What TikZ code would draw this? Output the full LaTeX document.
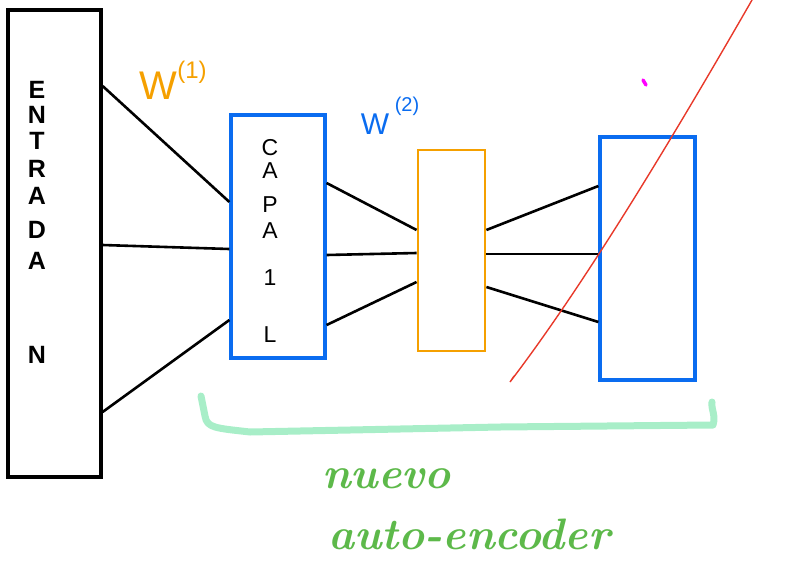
\documentclass[tikz,border=0pt]{standalone}
\usepackage{fontspec}
\setsansfont{Liberation Sans}
\definecolor{pblue}{HTML}{0A6CF0}
\definecolor{porange}{HTML}{F5A000}
\definecolor{pgreen}{HTML}{5DB94A}
\definecolor{pbrace}{HTML}{A8EEC8}
\definecolor{pred}{HTML}{E8392A}
\definecolor{pmag}{HTML}{FF00FF}
\tikzset{
  layerbox/.style={draw, line width=3.2pt, inner sep=0pt, fill=white},
  conn/.style={line width=2.6pt, black},
  letter/.style={font=\sffamily\bfseries\fontsize{25}{25}\selectfont, inner sep=0pt},
  cletter/.style={font=\sffamily\fontsize{23}{23}\selectfont, inner sep=0pt},
  hand/.style={font=\bfseries\itshape\fontsize{44}{44}\selectfont, text=pgreen, inner sep=0pt, anchor=base west}
}
\begin{document}
\begin{tikzpicture}[x=1pt,y=-1pt]
\useasboundingbox (0,0) rectangle (808,562);
% boxes
\node[layerbox, minimum width=93pt, minimum height=467pt] (inbox) at (54.5,243.5) {};
\node[layerbox, draw=pblue, minimum width=94pt, minimum height=243pt] (capa) at (278,236.5) {};
\node[layerbox, draw=porange, line width=2.8pt, minimum width=67pt, minimum height=201pt] (mid) at (451.5,250.5) {};
\node[layerbox, draw=pblue, minimum width=95pt, minimum height=243pt] (outbox) at (647.5,258.5) {};
% letters
\foreach \t/\y [count=\i] in {E/90,N/115,T/141,R/169,A/196,D/230,A/261,N/355}
  \node[letter] (e\i) at (37,\y) {\t};
\foreach \t/\y [count=\i] in {C/148,A/171,P/205,A/231,1/278,L/335}
  \node[cletter] (c\i) at (270,\y) {\t};
% connector end points
\coordinate (a1) at (inbox.east |- 0,86);
\coordinate (a2) at (inbox.east |- 0,245);
\coordinate (a3) at (inbox.east |- 0,412);
\coordinate (b1) at (capa.west |- 0,202);
\coordinate (b2) at (capa.west |- 0,249);
\coordinate (b3) at (capa.west |- 0,320);
\coordinate (c1o) at (capa.east |- 0,183);
\coordinate (c2o) at (capa.east |- 0,255);
\coordinate (c3o) at (capa.east |- 0,325);
\coordinate (d1) at (mid.west |- 0,230);
\coordinate (d2) at (mid.west |- 0,253);
\coordinate (d3) at (mid.west |- 0,282);
\coordinate (f1) at (mid.east |- 0,230);
\coordinate (f2) at (mid.east |- 0,254);
\coordinate (f3) at (mid.east |- 0,287);
\coordinate (g1) at (outbox.west |- 0,186);
\coordinate (g2) at (outbox.west |- 0,254);
\coordinate (g3) at (outbox.west |- 0,322);
\draw[conn] (a1) -- (b1);
\draw[conn] (a2) -- (b2);
\draw[conn] (a3) -- (b3);
\draw[conn] (c1o) -- (d1);
\draw[conn] (c2o) -- (d2);
\draw[conn] (c3o) -- (d3);
\draw[conn] (f1) -- (g1);
\draw[conn] (f2) -- (g2);
\draw[conn] (f3) -- (g3);
% weight labels
\node[font=\sffamily\fontsize{40}{40}\selectfont, text=porange, inner sep=0pt] (w1) at (158,86) {W};
\node[font=\sffamily\fontsize{24}{24}\selectfont, text=porange, inner sep=0pt] (w1s) at (192,72) {(1)};
\node[font=\sffamily\fontsize{30}{30}\selectfont, text=pblue, inner sep=0pt] (w2) at (375,124) {W};
\node[font=\sffamily\fontsize{20}{20}\selectfont, text=pblue, inner sep=0pt] (w2s) at (407,106) {(2)};
% red stroke
\coordinate (r0) at (514,376);
\coordinate (r1) at (510,382);
\coordinate (r2) at (752,0);
\draw[pred, line width=1.4pt, line cap=round] (r0) -- (r1) .. controls (580,290) and (660,160) .. (r2);
% magenta dot
\coordinate (m0) at (643,80);
\coordinate (m1) at (646,85);
\draw[pmag, line width=3.5pt, line cap=round] (m0) -- (m1);
% brace
\coordinate (br0) at (201,396);
\coordinate (br1) at (712,402);
\draw[pbrace, line width=7pt, line cap=round, line join=round]
  (br0) -- (205,416) .. controls (207,428) and (215,428) .. (250,432)
  -- (500,427) -- (713,425) .. controls (716,415) and (711,410) .. (br1);
% text
\node[hand] (t1) at (322,488) {nuevo};
\node[hand] (t2) at (328,549) {auto-encoder};
\end{tikzpicture}
\end{document}
